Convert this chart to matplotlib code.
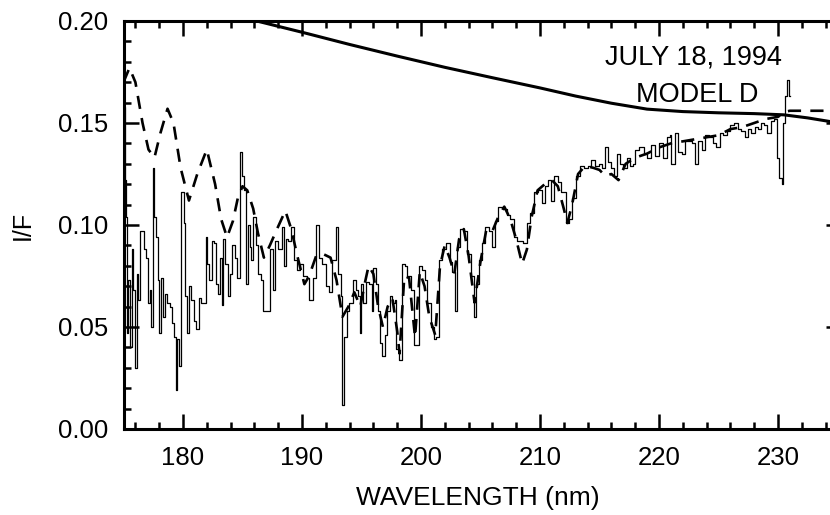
import matplotlib
matplotlib.use("Agg")
import matplotlib.pyplot as plt
from matplotlib.ticker import MultipleLocator, FormatStrFormatter

plt.rcParams['font.family'] = ['Liberation Sans', 'DejaVu Sans']

# observed spectrum (step histogram)
obs_wl = [175.00, 175.10, 175.20, 175.30, 175.40, 175.55, 175.70, 175.80, 175.95, 176.10,
          176.25, 176.40, 176.55, 176.75, 176.90, 177.05, 177.20, 177.30, 177.45, 177.60,
          177.75, 177.90, 178.00, 178.15, 178.30, 178.45, 178.65, 178.90, 179.10, 179.25,
          179.40, 179.50, 179.65, 179.85, 180.05, 180.20, 180.35, 180.50, 180.70, 180.90,
          181.10, 181.35, 181.55, 181.90, 182.05, 182.20, 182.40, 182.60, 182.75, 182.90,
          183.10, 183.25, 183.40, 183.55, 183.75, 183.95, 184.15, 184.35, 184.50, 184.80,
          184.95, 185.15, 185.30, 185.45, 185.60, 185.75, 185.90, 186.10, 186.30, 186.55,
          186.75, 187.10, 187.35, 187.55, 187.75, 187.95, 188.30, 188.45, 188.65, 188.85,
          189.10, 189.35, 189.55, 189.85, 190.05, 190.40, 190.60, 190.90, 191.20, 191.40,
          191.70, 192.05, 192.30, 192.55, 192.85, 193.05, 193.25, 193.40, 193.50, 193.75,
          193.95, 194.30, 194.50, 194.70, 194.85, 195.00, 195.15, 195.40, 195.65, 195.85,
          196.00, 196.20, 196.35, 196.55, 196.75, 196.95, 197.15, 197.40, 197.60, 197.80,
          197.90, 198.15, 198.40, 198.65, 198.85, 199.15, 199.40, 199.55, 199.85, 200.10,
          200.30, 200.50, 200.80, 201.10, 201.30, 201.55, 201.80, 202.10, 202.40, 202.60,
          202.85, 203.00, 203.25, 203.55, 203.85, 204.20, 204.45, 204.65, 204.85, 205.10,
          205.40, 205.70, 205.95, 206.20, 206.50, 206.90, 207.20, 207.50, 207.85, 208.10,
          208.55, 208.90, 209.20, 209.50, 209.85, 210.15, 210.45, 210.70, 210.95, 211.20,
          211.50, 211.80, 212.20, 212.40, 212.70, 213.00, 213.40, 213.70, 214.00, 214.30,
          214.65, 214.95, 215.20, 215.45, 215.75, 216.00, 216.20, 216.45, 216.75, 217.00,
          217.30, 217.60, 217.85, 218.00, 218.35, 218.70, 219.00, 219.35, 219.65, 220.00,
          220.30, 220.65, 220.90, 221.05, 221.35, 221.60, 221.90, 222.20, 222.50, 222.80,
          223.00, 223.30, 223.60, 223.90, 224.20, 224.50, 224.80, 225.10, 225.40, 225.70,
          226.00, 226.30, 226.60, 226.90, 227.20, 227.45, 227.75, 228.05, 228.30, 228.55,
          228.85, 229.10, 229.40, 229.65, 229.90, 230.10, 230.30, 230.45, 230.60, 230.75,
          230.90, 231.00]
obs_if = [0.158, 0.122, 0.104, 0.047, 0.073, 0.040, 0.088, 0.068, 0.030, 0.076,
          0.063, 0.097, 0.097, 0.088, 0.084, 0.062, 0.068, 0.050, 0.128, 0.104,
          0.094, 0.073, 0.047, 0.074, 0.055, 0.066, 0.062, 0.060, 0.052, 0.045,
          0.019, 0.044, 0.031, 0.116, 0.101, 0.065, 0.047, 0.070, 0.063, 0.053,
          0.049, 0.064, 0.062, 0.094, 0.081, 0.073, 0.092, 0.091, 0.071, 0.066,
          0.084, 0.061, 0.093, 0.081, 0.065, 0.076, 0.090, 0.084, 0.074, 0.136,
          0.124, 0.117, 0.071, 0.100, 0.089, 0.083, 0.104, 0.090, 0.076, 0.073,
          0.058, 0.058, 0.088, 0.068, 0.092, 0.088, 0.099, 0.080, 0.093, 0.092,
          0.099, 0.083, 0.078, 0.081, 0.075, 0.074, 0.063, 0.074, 0.100, 0.084,
          0.081, 0.070, 0.067, 0.083, 0.099, 0.076, 0.065, 0.012, 0.045, 0.058,
          0.062, 0.073, 0.068, 0.065, 0.047, 0.071, 0.062, 0.072, 0.071, 0.058,
          0.079, 0.071, 0.058, 0.042, 0.036, 0.046, 0.058, 0.065, 0.062, 0.063,
          0.039, 0.034, 0.081, 0.080, 0.075, 0.068, 0.041, 0.041, 0.080, 0.078,
          0.073, 0.062, 0.050, 0.044, 0.045, 0.083, 0.088, 0.091, 0.082, 0.077,
          0.058, 0.089, 0.098, 0.097, 0.086, 0.075, 0.055, 0.071, 0.083, 0.091,
          0.099, 0.097, 0.089, 0.102, 0.109, 0.108, 0.105, 0.103, 0.094, 0.092,
          0.091, 0.101, 0.106, 0.116, 0.117, 0.111, 0.119, 0.122, 0.112, 0.124,
          0.121, 0.116, 0.101, 0.103, 0.113, 0.124, 0.129, 0.128, 0.129, 0.132,
          0.129, 0.130, 0.128, 0.138, 0.131, 0.128, 0.124, 0.135, 0.130, 0.128,
          0.133, 0.129, 0.130, 0.137, 0.138, 0.135, 0.133, 0.139, 0.134, 0.140,
          0.133, 0.143, 0.144, 0.130, 0.145, 0.136, 0.135, 0.141, 0.141, 0.140,
          0.130, 0.141, 0.137, 0.144, 0.143, 0.140, 0.138, 0.145, 0.144, 0.146,
          0.149, 0.150, 0.147, 0.146, 0.143, 0.147, 0.145, 0.148, 0.147, 0.150,
          0.149, 0.145, 0.151, 0.152, 0.133, 0.123, 0.120, 0.150, 0.163, 0.171,
          0.163, 0.163]

# model D (dashed)
mod_wl = [175.0, 175.5, 176.0, 176.6, 177.1, 177.6, 178.1, 178.7, 179.2, 179.8,
          180.5, 181.2, 182.0, 182.7, 183.2, 183.7, 184.2, 184.6, 185.0, 185.4,
          185.9, 186.3, 186.8, 187.3, 187.9, 188.6, 189.1, 189.6, 190.2, 190.6,
          191.2, 191.7, 192.4, 192.9, 193.4, 193.9, 194.4, 194.9, 195.3, 195.6,
          196.0, 196.4, 196.8, 197.2, 197.6, 198.0, 198.2, 198.6, 199.0, 199.5,
          199.9, 200.3, 200.7, 201.2, 201.6, 202.0, 202.4, 202.8, 203.2, 203.6,
          204.0, 204.5, 205.0, 205.5, 206.0, 206.5, 207.0, 207.5, 208.0, 208.5,
          208.9, 209.3, 209.8, 210.4, 211.0, 211.5, 212.0, 212.3, 212.7, 213.2,
          213.8, 214.5, 215.0, 215.5, 216.0, 216.6, 217.2, 218.0, 219.0, 220.0,
          221.0, 222.0, 223.0, 224.0, 225.0, 226.0, 227.0, 228.0, 229.0, 230.0,
          230.6, 231.0, 234.6]
mod_if = [0.170, 0.177, 0.170, 0.150, 0.137, 0.133, 0.145, 0.157, 0.150, 0.128,
          0.112, 0.125, 0.137, 0.120, 0.103, 0.094, 0.102, 0.113, 0.119, 0.117,
          0.108, 0.096, 0.084, 0.090, 0.098, 0.107, 0.098, 0.085, 0.071, 0.075,
          0.085, 0.086, 0.084, 0.073, 0.055, 0.060, 0.067, 0.060, 0.072, 0.080,
          0.076, 0.060, 0.050, 0.060, 0.064, 0.048, 0.037, 0.075, 0.074, 0.045,
          0.077, 0.070, 0.055, 0.046, 0.080, 0.090, 0.084, 0.076, 0.093, 0.098,
          0.085, 0.062, 0.082, 0.098, 0.097, 0.104, 0.109, 0.103, 0.093, 0.081,
          0.088, 0.104, 0.117, 0.120, 0.122, 0.119, 0.108, 0.101, 0.110, 0.125,
          0.129, 0.128, 0.127, 0.124, 0.125, 0.122, 0.130, 0.133, 0.135, 0.138,
          0.140, 0.141, 0.142, 0.143, 0.144, 0.147, 0.148, 0.150, 0.152, 0.153,
          0.1555, 0.156, 0.156]

# smooth reference curve (solid)
ref_wl = [175.0, 180.0, 186.2, 190.0, 194.0, 198.0, 202.0, 206.0, 210.0, 213.0,
          216.0, 219.0, 222.0, 225.0, 228.0, 230.5, 232.5, 234.6]
ref_if = [0.214, 0.208, 0.200, 0.1945, 0.1885, 0.1828, 0.1773, 0.1722, 0.1672, 0.1632,
          0.1597, 0.1568, 0.1556, 0.1550, 0.1546, 0.1540, 0.1525, 0.1505]

W, H = 830, 515
fig = plt.figure(figsize=(W / 100, H / 100), dpi=100)
x0, x1 = 123.5, 832.7
y0, y1 = 429, 21
ax = fig.add_axes([x0 / W, (H - y0) / H, (x1 - x0) / W, (y0 - y1) / H])

ax.plot(obs_wl, obs_if, color='black', lw=0.9, drawstyle='steps-post')
ax.plot(mod_wl, mod_if, color='black', lw=1.9, linestyle=(0, (5, 3.5)))
ax.plot(ref_wl, ref_if, color='black', lw=2.2)

ax.set_xlim(175, 234.6)
ax.set_ylim(0, 0.20)

ax.xaxis.set_major_locator(MultipleLocator(10))
ax.xaxis.set_minor_locator(MultipleLocator(2))
ax.yaxis.set_major_locator(MultipleLocator(0.05))
ax.yaxis.set_minor_locator(MultipleLocator(0.01))
ax.yaxis.set_major_formatter(FormatStrFormatter('%.2f'))

ax.tick_params(which='both', direction='in', width=1.8, top=True, right=False,
               labelsize=18.5, color='black')
ax.tick_params(which='major', length=10.5)
ax.tick_params(which='minor', length=5)
ax.tick_params(axis='x', pad=12)
ax.tick_params(axis='y', pad=11)

for side in ['left', 'bottom', 'top']:
    ax.spines[side].set_linewidth(2.2)
ax.spines['right'].set_visible(False)

# short ticks along the right edge
ax2 = ax.twinx()
ax2.set_ylim(0, 0.20)
ax2.yaxis.set_major_locator(MultipleLocator(0.05))
ax2.yaxis.set_minor_locator(MultipleLocator(0.01))
ax2.tick_params(which='both', direction='in', width=1.8, labelright=False)
ax2.tick_params(which='major', length=5)
ax2.tick_params(which='minor', length=1.5)
for s in ax2.spines.values():
    s.set_visible(False)

ax.set_xlabel('WAVELENGTH (nm)', fontsize=19, labelpad=12)
ax.set_ylabel('I/F', fontsize=18, labelpad=17)

# annotation in the upper right
fig.text(693 / W, 1 - 58 / H, 'JULY 18, 1994', fontsize=19.5, ha='center', va='center')
fig.text(697 / W, 1 - 95 / H, 'MODEL D', fontsize=19.5, ha='center', va='center')

fig.savefig('out.png', dpi=100)
